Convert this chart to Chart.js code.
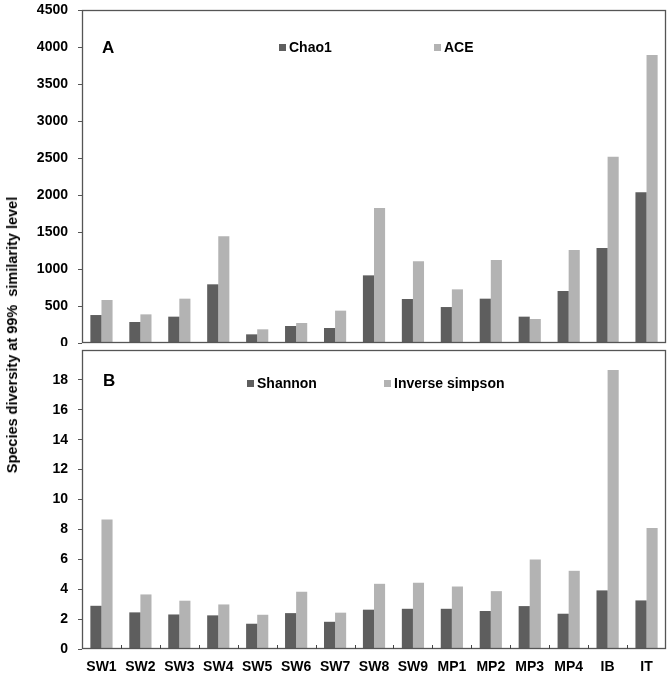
<!DOCTYPE html>
<html>
<head>
<meta charset="utf-8">
<script src="https://cdn.jsdelivr.net/npm/chart.js@4/dist/chart.umd.min.js"></script>
<style>
  html, body { margin: 0; padding: 0; background: #fff; }
  body { width: 672px; height: 676px; position: relative; overflow: hidden; }
  #ca { position: absolute; left: 0; top: 0; }
  #cb { position: absolute; left: 0; top: 346px; }
  #ytitle {
    position: absolute; left: 12px; top: 335px;
    transform: translate(-50%, -50%) rotate(-90deg);
    white-space: pre; font: bold 14.5px "Liberation Sans", Arial, sans-serif; color: #000;
  }
</style>
</head>
<body>
<canvas id="ca" width="672" height="346"></canvas>
<canvas id="cb" width="672" height="330"></canvas>
<div id="ytitle">Species diversity at 99%  similarity level</div>
<script>
const categories = ['SW1','SW2','SW3','SW4','SW5','SW6','SW7','SW8','SW9','MP1','MP2','MP3','MP4','IB','IT'];
const chao1 = [378, 284, 356, 793, 117, 230, 203, 914, 595, 486, 599, 356, 703, 1284, 2036];
const ace   = [581, 387, 599, 1441, 185, 270, 437, 1824, 1104, 725, 1122, 324, 1257, 2518, 3892];
const shannon = [2.89, 2.45, 2.31, 2.25, 1.69, 2.40, 1.82, 2.63, 2.69, 2.69, 2.54, 2.87, 2.36, 3.92, 3.25];
const invSimpson = [8.66, 3.65, 3.23, 2.98, 2.29, 3.83, 2.43, 4.36, 4.43, 4.18, 3.87, 5.99, 5.23, 18.67, 8.10];
const ticksA = [0, 500, 1000, 1500, 2000, 2500, 3000, 3500, 4000, 4500];
const ticksB = [0, 2, 4, 6, 8, 10, 12, 14, 16, 18];

const DARK = '#5e5e5e', LIGHT = '#b3b3b3';
const FONT = '"Liberation Sans", Arial, sans-serif';

const panelPlugin = {
  id: 'panel',
  afterDatasetsDraw(chart, args, opts) {
    const ctx = chart.ctx, a = chart.chartArea;
    ctx.save();
    ctx.strokeStyle = '#555';
    ctx.lineWidth = 1.3;
    ctx.strokeRect(a.left + 0.5, a.top + 0.5, a.right - a.left - 1, a.bottom - a.top - 1);
    if (opts.xTicks) {
      const x = chart.scales.x;
      ctx.lineWidth = 1;
      ctx.strokeStyle = '#444';
      ctx.beginPath();
      for (let i = 0; i < categories.length - 1; i++) {
        const px = Math.round((x.getPixelForValue(i) + x.getPixelForValue(i + 1)) / 2) + 0.5;
        ctx.moveTo(px, a.bottom);
        ctx.lineTo(px, a.bottom - 4);
      }
      ctx.stroke();
    }
    ctx.fillStyle = '#000';
    ctx.font = 'bold 17px ' + FONT;
    ctx.textBaseline = 'middle';
    ctx.textAlign = 'left';
    ctx.fillText(opts.letter, a.left + opts.letterX, a.top + opts.letterY);
    ctx.font = 'bold 14px ' + FONT;
    chart.data.datasets.forEach((ds, i) => {
      const lx = a.left + opts.legendX[i], ly = a.top + opts.legendY;
      ctx.fillStyle = ds.backgroundColor;
      ctx.fillRect(lx, ly - 3, 7, 7);
      ctx.fillStyle = '#000';
      ctx.fillText(ds.label, lx + 10, ly + 1);
    });
    ctx.restore();
  }
};

function yAxis(max, stepTicks) {
  return {
    min: 0, max: max,
    afterFit(s) { s.width = 82; s.paddingTop = 0; s.paddingBottom = 0; },
    afterBuildTicks(s) { s.ticks = stepTicks.map(v => ({ value: v })); },
    grid: { display: true, drawOnChartArea: false, drawTicks: true, tickLength: 4, color: '#555' },
    border: { display: false },
    ticks: { color: '#000', font: { family: FONT, size: 14, weight: 'bold' }, padding: 10,
      callback: v => String(v) }
  };
}

function datasets(l1, d1, l2, d2) {
  return [
    { label: l1, data: d1, backgroundColor: DARK, barPercentage: 1, categoryPercentage: 0.57 },
    { label: l2, data: d2, backgroundColor: LIGHT, barPercentage: 1, categoryPercentage: 0.57 }
  ];
}

const common = {
  responsive: false, maintainAspectRatio: false, animation: false, devicePixelRatio: 1,
  events: [],
};

new Chart(document.getElementById('ca'), {
  type: 'bar',
  data: { labels: categories, datasets: datasets('Chao1', chao1, 'ACE', ace) },
  options: Object.assign({}, common, {
    layout: { autoPadding: false, padding: { left: 0, right: 6, top: 10, bottom: 3 } },
    plugins: { legend: { display: false }, tooltip: { enabled: false },
      panel: { letter: 'A', letterX: 20, letterY: 38, legendX: [197, 352], legendY: 37 } },
    scales: {
      x: { display: false },
      y: yAxis(4500, ticksA)
    }
  }),
  plugins: [panelPlugin]
});

new Chart(document.getElementById('cb'), {
  type: 'bar',
  data: { labels: categories, datasets: datasets('Shannon', shannon, 'Inverse simpson', invSimpson) },
  options: Object.assign({}, common, {
    layout: { autoPadding: false, padding: { left: 0, right: 6, top: 4, bottom: 0 } },
    plugins: { legend: { display: false }, tooltip: { enabled: false },
      panel: { letter: 'B', letterX: 21, letterY: 31, legendX: [165, 302], legendY: 33, xTicks: true } },
    scales: {
      x: {
        afterFit(s) { s.height = 27; },
        grid: { display: false, drawTicks: false },
        border: { display: false },
        ticks: { color: '#000', font: { family: FONT, size: 14, weight: 'bold' }, padding: 10, maxRotation: 0, autoSkip: false }
      },
      y: yAxis(20, ticksB)
    }
  }),
  plugins: [panelPlugin]
});
</script>
</body>
</html>
